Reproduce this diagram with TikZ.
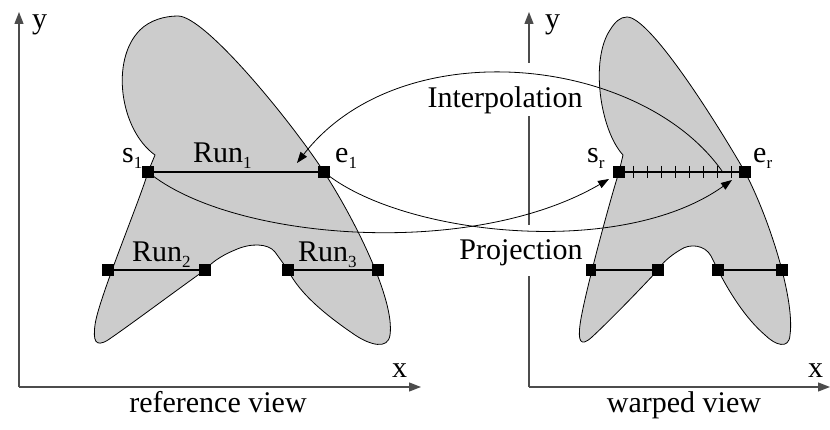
\documentclass[tikz,border=0pt]{standalone}
\usepackage{fontspec}
\setmainfont{Liberation Serif}
\usetikzlibrary{arrows.meta}
\newcommand{\mysub}[1]{\raisebox{-0.2em}{\fontsize{17}{17}\selectfont #1}}
\begin{document}
\begin{tikzpicture}[x=1pt,y=-1pt,
  font=\fontsize{30}{36}\selectfont,
  axis/.style={line width=1.3pt, draw=black!70, -{Triangle[length=12pt,width=9pt]}},
  blob/.style={fill=black!20, draw=black, line width=0.8pt},
  runline/.style={line width=1.6pt},
  marker/.style={rectangle, fill=black, minimum size=12pt, inner sep=0pt},
  conn/.style={line width=0.8pt, -{Triangle[length=11pt,width=8pt]}},
  lab/.style={inner sep=0pt, anchor=base west},
  blank/.style={fill=white, inner xsep=3pt, inner ysep=0pt, anchor=base}]
\useasboundingbox (0,0) rectangle (830,430);

% axes
\coordinate (o1) at (19,387);
\coordinate (y1) at (19,12);
\coordinate (x1) at (421,387);
\coordinate (o2) at (529,387);
\coordinate (y2) at (529,12);
\coordinate (x2) at (830,387);
\draw[axis] (o1) -- (y1);
\draw[axis] (o1) -- (x1);
\draw[axis] (o2) -- (y2);
\draw[axis] (o2) -- (x2);
\node[lab] (ly1) at (32,29) {y};
\node[lab] (lx1) at (392,377) {x};
\node[lab] (ly2) at (545,29) {y};
\node[lab] (lx2) at (808,377) {x};
\node[anchor=base, inner sep=0pt] (cap1) at (218,412) {reference view};
\node[anchor=base, inner sep=0pt] (cap2) at (684,412) {warped view};

% left shape
\path[blob] (178,16) .. controls (205,16) and (290,120) .. (324,172)
  .. controls (355,220) and (395,300) .. (390,335)
  .. controls (388,350) and (370,345) .. (355,335)
  .. controls (330,318) and (300,295) .. (288,270)
  -- (275,252)
  .. controls (268,243) and (250,243) .. (235,250)
  .. controls (220,256) and (210,264) .. (205,270)
  .. controls (170,295) and (130,325) .. (108,340)
  .. controls (95,348) and (93,340) .. (95,325)
  .. controls (98,300) and (140,200) .. (148,172)
  -- (155,155)
  .. controls (120,130) and (110,60) .. (140,30)
  .. controls (150,20) and (165,16) .. (178,16) -- cycle;

% right shape
\path[blob] (627,17) .. controls (650,17) and (715,120) .. (745,172)
  .. controls (770,220) and (795,300) .. (790,335)
  .. controls (789,350) and (775,345) .. (765,335)
  .. controls (745,318) and (728,290) .. (718,270)
  -- (711,256)
  .. controls (705,245) and (690,243) .. (680,250)
  .. controls (670,256) and (662,263) .. (658,270)
  .. controls (630,300) and (605,325) .. (592,337)
  .. controls (580,348) and (578,340) .. (580,325)
  .. controls (583,300) and (610,200) .. (619,172)
  -- (623,155)
  .. controls (600,130) and (590,60) .. (610,30)
  .. controls (615,22) and (620,17) .. (627,17) -- cycle;

% markers
\node[marker] (s1) at (148,172) {};
\node[marker] (e1) at (324,172) {};
\node[marker] (a2) at (108,270) {};
\node[marker] (b2) at (205,270) {};
\node[marker] (a3) at (288,270) {};
\node[marker] (b3) at (378,270) {};
\node[marker] (sr) at (619,172) {};
\node[marker] (er) at (745,172) {};
\node[marker] (c2) at (590,270) {};
\node[marker] (d2) at (658,270) {};
\node[marker] (c3) at (718,270) {};
\node[marker] (d3) at (782,270) {};

% runs
\draw[runline] (s1) -- (e1);
\draw[runline] (a2) -- (b2);
\draw[runline] (a3) -- (b3);
\draw[runline] (sr) -- (er);
\draw[runline] (c2) -- (d2);
\draw[runline] (c3) -- (d3);
\foreach \k in {1,...,8} \draw[line width=0.8pt] ({619+14*\k},166) -- ({619+14*\k},178);

% labels
\node[lab] (ls1) at (122,163) {s\mysub{1}};
\node[lab] (le1) at (335,163) {e\mysub{1}};
\node[lab] (lr1) at (193,163) {Run\mysub{1}};
\node[lab] (lr2) at (132,262) {Run\mysub{2}};
\node[lab] (lr3) at (298,262) {Run\mysub{3}};
\node[lab] (lsr) at (587,163) {s\mysub{r}};
\node[lab] (ler) at (753,163) {e\mysub{r}};
\node[blank, text height=45pt, text depth=8pt] (interp) at (505,108) {Interpolation};
\node[blank, text height=35pt, text depth=16pt] (proj) at (521,260) {Projection};

% connectors
\coordinate (tipS) at (609,179);
\coordinate (tipE) at (732,180);
\coordinate (istart) at (722,171);
\coordinate (tipI) at (297,163);
\draw[conn] (s1.center) .. controls (230,240) and (470,260) .. (tipS);
\draw[conn] (e1.center) .. controls (400,235) and (620,260) .. (tipE);
\draw[conn] (istart) .. controls (640,55) and (400,30) .. (tipI);
\node[marker] at (s1) {};
\node[marker] at (e1) {};
\end{tikzpicture}
\end{document}
